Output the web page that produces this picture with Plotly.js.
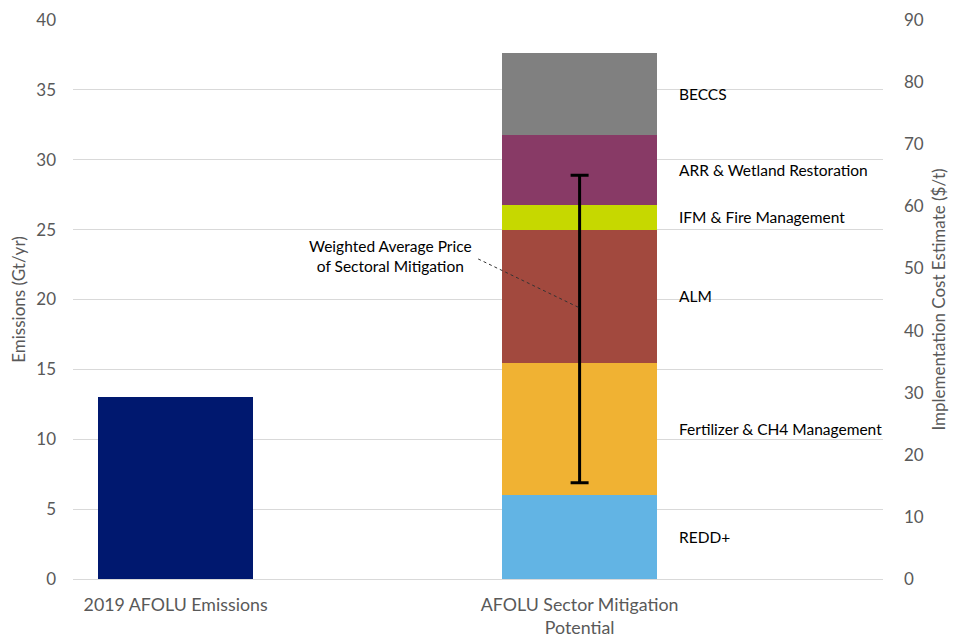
<!DOCTYPE html>
<html>
<head>
<meta charset="utf-8">
<script src="https://cdn.plot.ly/plotly-3.0.1.min.js"></script>
<style>html,body{margin:0;padding:0;background:#fff;}#chart{width:953px;height:638px;}</style>
</head>
<body>
<div id="chart"></div>
<script>
// ---- data ----
const categories = ["2019 AFOLU Emissions", "AFOLU Sector Mitigation<br>Potential"];
const emissions2019 = 13.0;
const segmentNames = ["REDD+", "Fertilizer & CH4 Management", "ALM", "IFM & Fire Management", "ARR & Wetland Restoration", "BECCS"];
const segmentValues = [6.0, 9.45, 9.55, 1.75, 5.0, 5.9];
const segmentColors = ["#62B4E4", "#F0B233", "#A2493E", "#C6D800", "#883A66", "#808080"];
const priceAvg = 40.0;      // $/t
const priceHigh = 65.0;
const priceLow = 15.5;

const FONT = "Lato, 'Open Sans', sans-serif";
const GREY = "#595959";
const BARW = 0.384;

const traces = [];
traces.push({
  type: "bar", x: [categories[0]], y: [emissions2019], width: BARW,
  marker: {color: "#00186F"}, showlegend: false, hoverinfo: "skip"
});
segmentValues.forEach((v, i) => {
  traces.push({
    type: "bar", x: [categories[1]], y: [v], width: BARW, name: segmentNames[i],
    marker: {color: segmentColors[i]}, showlegend: false, hoverinfo: "skip"
  });
});
traces.push({
  type: "scatter", mode: "markers", x: [categories[1]], y: [priceAvg], yaxis: "y2",
  marker: {size: 1, opacity: 0},
  error_y: {type: "data", symmetric: false, array: [priceHigh - priceAvg], arrayminus: [priceAvg - priceLow],
            color: "#000", thickness: 3, width: 9},
  showlegend: false, hoverinfo: "skip"
});

// segment labels at segment midpoints
const annotations = [];
let cum = 0;
segmentValues.forEach((v, i) => {
  const mid = cum + v / 2;
  cum += v;
  annotations.push({
    x: 1, y: mid, xref: "x", yref: "y", text: segmentNames[i], showarrow: false,
    xanchor: "left", yanchor: "middle", xshift: 97,
    font: {family: FONT, size: 15.5, color: "#000"}
  });
});
annotations.push({
  x: 0.531, y: 23.1, xref: "x", yref: "y",
  text: "Weighted Average Price<br>of Sectoral Mitigation", showarrow: false,
  xanchor: "center", yanchor: "middle", align: "center",
  font: {family: FONT, size: 15.5, color: "#000"}
});

const layout = {
  width: 953, height: 638,
  margin: {l: 73, r: 70, t: 20, b: 59},
  paper_bgcolor: "#fff", plot_bgcolor: "#fff",
  barmode: "stack",
  font: {family: FONT, color: GREY},
  xaxis: {
    type: "category", range: [-0.254, 1.751], showgrid: false, zeroline: false,
    showline: false, ticks: "", tickfont: {family: FONT, size: 17.8, color: GREY},
    ticklabelstandoff: 13
  },
  yaxis: {
    range: [0, 40], dtick: 5, showgrid: true, gridcolor: "#D9D9D9", gridwidth: 1,
    zeroline: true, zerolinecolor: "#D9D9D9", zerolinewidth: 1,
    ticks: "", tickfont: {family: FONT, size: 17, color: GREY}, ticklabelstandoff: 16,
    title: {text: "Emissions (Gt/yr)", font: {family: FONT, size: 17, color: GREY}, standoff: 6}
  },
  yaxis2: {
    overlaying: "y", side: "right", range: [0, 90], dtick: 10, showgrid: false, zeroline: false,
    ticks: "", tickfont: {family: FONT, size: 17, color: GREY}, ticklabelstandoff: 20,
    title: {text: "Implementation Cost Estimate ($/t)", font: {family: FONT, size: 17, color: GREY}, standoff: 10}
  },
  annotations: annotations,
  shapes: [{
    type: "line", xref: "x", yref: "y", x0: 0.749, y0: 22.9, x1: 1, y1: 19.4,
    line: {color: "#333", width: 1, dash: "dot"}
  }]
};

Plotly.newPlot("chart", traces, layout, {displayModeBar: false, staticPlot: true});
</script>
</body>
</html>
